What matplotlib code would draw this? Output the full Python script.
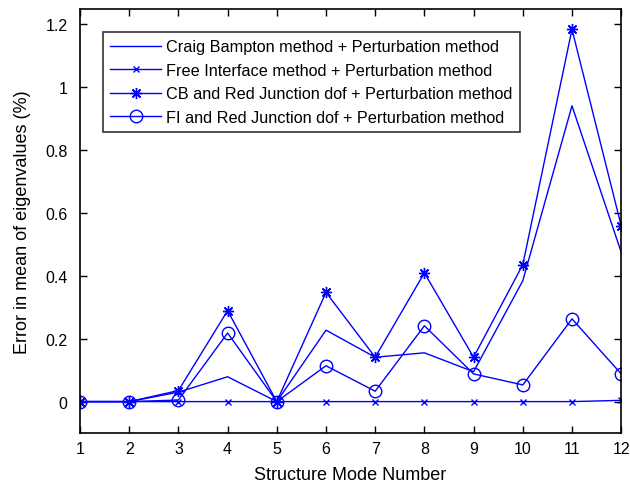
import matplotlib
matplotlib.use("Agg")
import matplotlib.pyplot as plt

plt.rcParams['font.family'] = ['Liberation Sans', 'DejaVu Sans']

modes = [1, 2, 3, 4, 5, 6, 7, 8, 9, 10, 11, 12]
cb_pert = [0, 0, 0.03, 0.079, 0, 0.227, 0.141, 0.155, 0.095, 0.384, 0.94, 0.475]
fi_pert = [0, 0, 0, 0, 0, 0, 0, 0, 0, 0, 0, 0.004]
cb_red = [0, 0, 0.035, 0.289, 0, 0.347, 0.141, 0.409, 0.141, 0.435, 1.183, 0.559]
fi_red = [0, 0, 0.005, 0.218, 0, 0.114, 0.033, 0.241, 0.088, 0.053, 0.263, 0.088]

labels = [
    "Craig Bampton method + Perturbation method",
    "Free Interface method + Perturbation method",
    "CB and Red Junction dof + Perturbation method",
    "FI and Red Junction dof + Perturbation method",
]

blue = (0, 0, 1)
fig = plt.figure(figsize=(6.3, 4.85), dpi=100)
ax = fig.add_axes([0.127, 0.105, 0.859, 0.874])

ax.plot(modes, cb_pert, color=blue, lw=1.0, label=labels[0])
ax.plot(modes, fi_pert, color=blue, lw=1.0, marker='x', ms=4, mew=1.0, label=labels[1])
ax.plot(modes, cb_red, color=blue, lw=1.0, marker=(8, 2, 0), ms=8, mew=1.0, label=labels[2])
ax.plot(modes, fi_red, color=blue, lw=1.0, marker='o', ms=9, mfc='none', mew=1.0, label=labels[3])

ax.set_xlim(1, 12)
ax.set_ylim(-0.1, 1.247)
ax.set_xticks(modes)
ax.set_xticklabels([str(m) for m in modes])
yt = [0, 0.2, 0.4, 0.6, 0.8, 1.0, 1.2]
ax.set_yticks(yt)
ax.set_yticklabels(["0", "0.2", "0.4", "0.6", "0.8", "1", "1.2"])
ax.tick_params(direction='in', top=True, right=True, labelsize=11.5, length=5, width=1)
ax.tick_params(axis='x', pad=6)
ax.tick_params(axis='y', pad=9)
for s in ax.spines.values():
    s.set_linewidth(1.2)

ax.set_xlabel("Structure Mode Number", fontsize=13, labelpad=7)
ax.set_ylabel("Error in mean of eigenvalues (%)", fontsize=13, labelpad=10)

leg = ax.legend(loc='upper left', bbox_to_anchor=(0.0425, 0.946), borderaxespad=0,
                fontsize=11.7, frameon=True, fancybox=False, edgecolor='black',
                handlelength=3.1, borderpad=0.45, labelspacing=0.52, handletextpad=0.35)
leg.get_frame().set_linewidth(1.2)

fig.savefig("out.png", dpi=100)
